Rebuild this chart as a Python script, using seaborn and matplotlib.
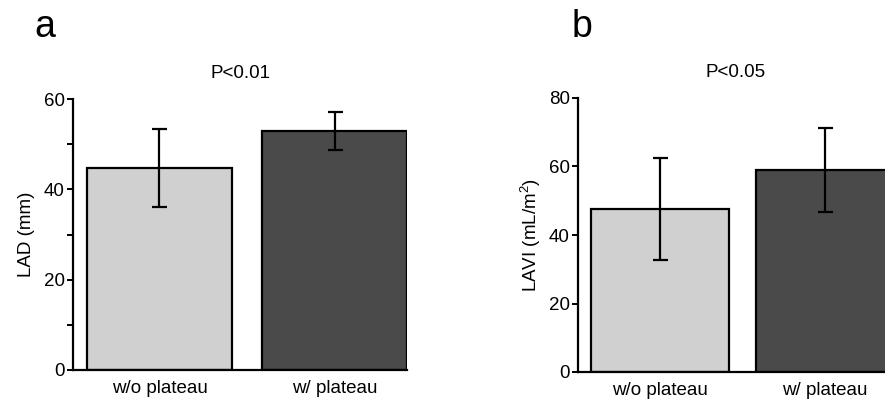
import matplotlib
matplotlib.use("Agg")
import matplotlib.pyplot as plt
import seaborn as sns
import pandas as pd
from matplotlib.ticker import MultipleLocator

categories = ["w/o plateau", "w/ plateau"]
lad_mean = [44.7, 52.9]
lad_err = [8.6, 4.3]
lavi_mean = [47.6, 58.9]
lavi_err = [15.0, 12.3]
panel_letters = ["a", "b"]
p_texts = ["P<0.01", "P<0.05"]
ylabels = ["LAD (mm)", "LAVI (mL/m$^2$)"]
yticks_a = [0, 20, 40, 60]
yticks_b = [0, 20, 40, 60, 80]

sns.set_style("ticks")
plt.rcParams["font.family"] = ["Liberation Sans", "DejaVu Sans"]
plt.rcParams["mathtext.fontset"] = "custom"
plt.rcParams["mathtext.rm"] = "Liberation Sans"
plt.rcParams["mathtext.it"] = "Liberation Sans"
plt.rcParams["text.color"] = "black"
plt.rcParams["axes.labelcolor"] = "black"
plt.rcParams["axes.edgecolor"] = "black"
plt.rcParams["xtick.color"] = "black"
plt.rcParams["ytick.color"] = "black"

fig = plt.figure(figsize=(8.85, 4.0), dpi=100)
ax_a = fig.add_axes([73/885, 1-370/400, 334/885, 271/400])
ax_b = fig.add_axes([578/885, 1-372/400, 316/885, 274/400])

colors = ["#d0d0d0", "#4a4a4a"]
FS = 13.5

def draw(ax, means, errs, ylab, ylim, yticks, xlim, width, title, minor, labelpad):
    df = pd.DataFrame({"group": categories, "value": means})
    sns.barplot(data=df, x="group", y="value", hue="group", palette=colors,
                width=width, edgecolor="black", linewidth=1.6, legend=False,
                ax=ax, errorbar=None)
    ax.errorbar(x=range(len(means)), y=means, yerr=errs, fmt="none",
                ecolor="black", elinewidth=1.6, capsize=5.4, capthick=1.6)
    ax.set_ylim(*ylim)
    ax.set_xlim(*xlim)
    ax.set_yticks(yticks)
    if minor:
        ax.yaxis.set_minor_locator(MultipleLocator(minor))
    ax.set_xlabel("")
    ax.set_ylabel(ylab, fontsize=FS, labelpad=labelpad)
    ax.set_title(title, fontsize=FS, pad=15)
    for s in ["top", "right"]:
        ax.spines[s].set_visible(False)
    for s in ["left", "bottom"]:
        ax.spines[s].set_linewidth(1.6)
    ax.tick_params(axis="y", which="both", length=4, width=1.4, labelsize=FS, pad=2)
    ax.tick_params(axis="x", length=0, labelsize=FS, pad=7)

draw(ax_a, lad_mean, lad_err, ylabels[0], (0, 60), yticks_a, (-0.494, 1.414), 0.83, p_texts[0], 10, 6)
draw(ax_b, lavi_mean, lavi_err, ylabels[1], (0, 80), yticks_b, (-0.497, 1.418), 0.836, p_texts[1], None, 4)

fig.text(45/885, 1-27/400, panel_letters[0], fontsize=27, ha="center", va="center")
fig.text(582/885, 1-27/400, panel_letters[1], fontsize=27, ha="center", va="center")

fig.savefig("out.png", dpi=100)
